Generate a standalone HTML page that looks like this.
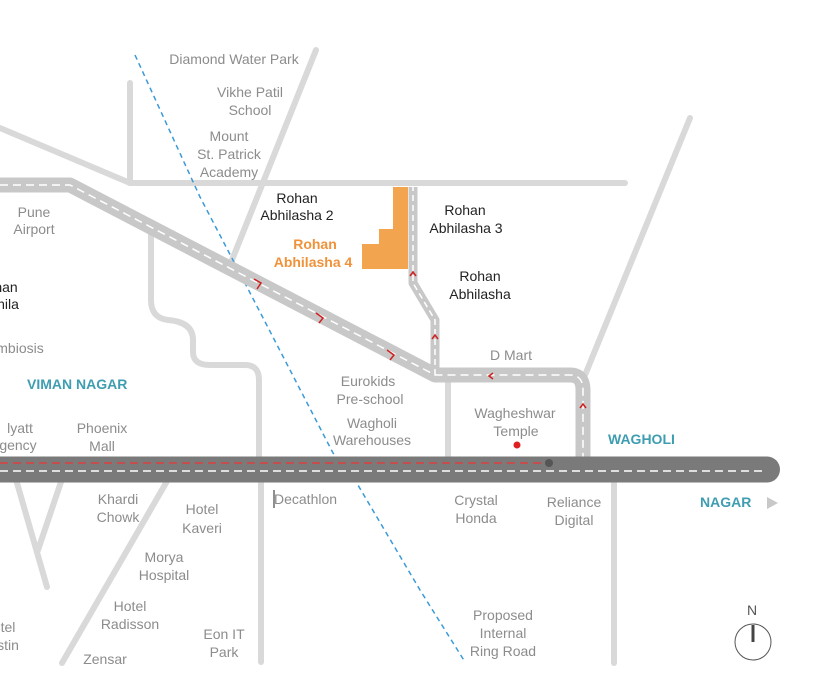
<!DOCTYPE html>
<html><head><meta charset="utf-8"><style>
html,body{margin:0;padding:0;background:#fff;}
svg{display:block;}
text{font-family:"Liberation Sans",sans-serif;font-size:14px;}
.g{fill:#8c8c8c;}
.d{fill:#222;}
.o{fill:#f0923a;font-weight:bold;}
.t{fill:#3f9db2;font-weight:bold;}
</style></head><body>
<svg width="838" height="692" viewBox="0 0 838 692" xmlns="http://www.w3.org/2000/svg">
<g stroke="#d9d9d9" stroke-width="6" fill="none" stroke-linecap="round">
<line x1="130" y1="183" x2="625" y2="183"/>
<line x1="130" y1="83" x2="130" y2="183"/>
<line x1="0" y1="128" x2="130" y2="183"/>
<line x1="316" y1="50" x2="230" y2="265"/>
<path d="M151,228 V300 Q151,318 168,320 Q193,322 193,340 V352 Q193,365 210,365 H245 Q259,365 259,380 V462"/>
<line x1="448" y1="375" x2="448" y2="462"/>
<line x1="583" y1="380" x2="690" y2="118"/>
<line x1="614" y1="476" x2="614" y2="663"/>
<line x1="261" y1="476" x2="261" y2="662"/>
<line x1="170" y1="476" x2="62" y2="663"/>
<line x1="15" y1="476" x2="47" y2="587"/>
<line x1="63" y1="476" x2="38" y2="550"/>
</g>
<polyline points="135,55 200,197 247,287 333,453 352,475 420,590 465,662" fill="none" stroke="#3a9ad8" stroke-width="1.5" stroke-dasharray="5,4"/>
<path d="M0,185 H70 L435,375 H570 Q583,375 583,390 V462" fill="none" stroke="#c8c8c8" stroke-width="15" stroke-linejoin="round"/>
<path d="M435,375 V320 L413,283 V187" fill="none" stroke="#c8c8c8" stroke-width="9" stroke-linejoin="round"/>
<path d="M0,185 H70 L435,375 H570 Q583,375 583,390 V462" fill="none" stroke="#fff" stroke-width="1.5" stroke-dasharray="8,5"/>
<path d="M435,375 V320 L413,283 V187" fill="none" stroke="#fff" stroke-width="1.5" stroke-dasharray="6,4"/>
<polygon points="393,187 408,187 408,269 362,269 362,244 379,244 379,229 393,229" fill="#f2a54e"/>
<line x1="0" y1="469.5" x2="767" y2="469.5" stroke="#7a7a7a" stroke-width="26" stroke-linecap="round"/>
<line x1="0" y1="471" x2="765" y2="471" stroke="#fff" stroke-width="1.5" stroke-dasharray="8,5"/>
<line x1="0" y1="463" x2="549" y2="463" stroke="#d94040" stroke-width="1.5" stroke-dasharray="8,5"/>
<circle cx="549" cy="463" r="4" fill="#555"/>
<circle cx="517" cy="445" r="3.5" fill="#e02020"/>
<g stroke="#d02020" stroke-width="1.5" fill="none">
<path d="M254,279 L261,283 L257,289"/>
<path d="M316,313 L323,318 L319,323"/>
<path d="M387,350 L394,355 L390,360"/>
<path d="M410,276 L413,272 L416,276"/>
<path d="M432,339 L435,335 L438,339"/>
<path d="M493,373 L489,376 L493,379"/>
<path d="M580,408 L583,404 L586,408"/>
</g>
<g class="g" text-anchor="middle">
<text x="234" y="64">Diamond Water Park</text>
<text x="250" y="97">Vikhe Patil</text><text x="250" y="115">School</text>
<text x="229" y="141">Mount</text><text x="229" y="159">St. Patrick</text><text x="229" y="177">Academy</text>
<text x="34" y="217">Pune</text><text x="34" y="234">Airport</text>
<text x="20" y="353">mbiosis</text>
<text x="368" y="386">Eurokids</text><text x="370" y="404">Pre-school</text>
<text x="372" y="428">Wagholi</text><text x="372" y="445">Warehouses</text>
<text x="511" y="360">D Mart</text>
<text x="515" y="418">Wagheshwar</text><text x="516" y="436">Temple</text>
<text x="102" y="433">Phoenix</text><text x="102" y="451">Mall</text>
<text x="20" y="433">lyatt</text><text x="18" y="450">gency</text>
<text x="118" y="504">Khardi</text><text x="118" y="522">Chowk</text>
<text x="202" y="514">Hotel</text><text x="202" y="533">Kaveri</text>
<text x="164" y="562">Morya</text><text x="164" y="580">Hospital</text>
<text x="130" y="611">Hotel</text><text x="130" y="629">Radisson</text>
<text x="105" y="664">Zensar</text>
<text x="224" y="639">Eon IT</text><text x="224" y="657">Park</text>
<text x="8" y="632">tel</text><text x="8" y="650">stin</text>
<text x="476" y="505">Crystal</text><text x="476" y="523">Honda</text>
<text x="574" y="507">Reliance</text><text x="574" y="525">Digital</text>
<text x="503" y="620">Proposed</text><text x="503" y="638">Internal</text><text x="503" y="656">Ring Road</text>
</g>
<text class="g" x="274" y="504">Decathlon</text>
<line x1="274" y1="490" x2="274" y2="508" stroke="#222" stroke-width="1"/>
<g class="d" text-anchor="middle">
<text x="297" y="203">Rohan</text><text x="297" y="220">Abhilasha 2</text>
<text x="465" y="215">Rohan</text><text x="466" y="233">Abhilasha 3</text>
<text x="480" y="281">Rohan</text><text x="480" y="299">Abhilasha</text>
<text x="6" y="292">han</text><text x="8" y="309">hila</text>
</g>
<g class="o" text-anchor="middle">
<text x="315" y="249">Rohan</text><text x="313" y="267">Abhilasha 4</text>
</g>
<text class="t" x="27" y="389">VIMAN NAGAR</text>
<text class="t" x="608" y="444">WAGHOLI</text>
<text class="t" x="700" y="507">NAGAR</text>
<polygon points="767,497 778,503 767,509" fill="#c8c8c8"/>
<text x="752" y="615" text-anchor="middle" fill="#555" font-size="13">N</text>
<circle cx="753" cy="642" r="18" fill="none" stroke="#555" stroke-width="1"/>
<line x1="753" y1="625" x2="753" y2="642" stroke="#444" stroke-width="3"/>
</svg>
</body></html>
